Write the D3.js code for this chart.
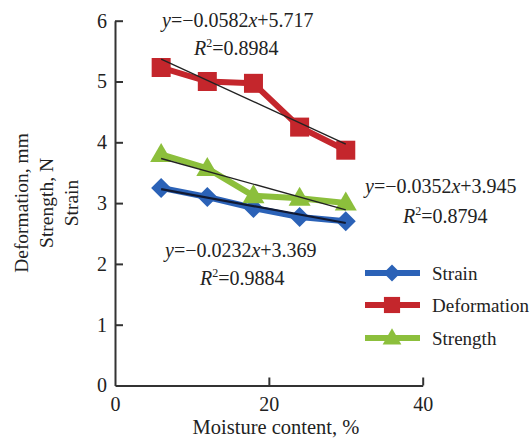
<!DOCTYPE html>
<html><head><meta charset="utf-8">
<script src="https://cdn.jsdelivr.net/npm/d3@7"></script>
<style>
html,body{margin:0;padding:0;background:#fff;}
svg{display:block;font-family:"Liberation Serif","Times New Roman",serif;}
</style></head>
<body><svg id="c" width="531" height="438"></svg>
<script>
const moisture = [6, 12, 18, 24, 30];
const strain = [3.25, 3.10, 2.92, 2.77, 2.70];
const deformation = [5.23, 5.00, 4.97, 4.25, 3.87];
const strength = [3.80, 3.57, 3.12, 3.08, 3.00];
const seriesNames = ["Strain", "Deformation", "Strength"];
const seriesColors = ["#2b62b7", "#c4262c", "#8cbf3c"];
const seriesMarkers = ["diamond", "square", "triangle"];
const slopes = [-0.0232, -0.0582, -0.0352];
const intercepts = [3.369, 5.717, 3.945];
const eqLabels = ["0.0232", "0.0582", "0.0352"];
const eqConst = ["3.369", "5.717", "3.945"];
const r2Labels = ["0.9884", "0.8984", "0.8794"];
const xTicks = [0, 20, 40];
const yTicks = [0, 1, 2, 3, 4, 5, 6];

const svg = d3.select("#c");
const x = d3.scaleLinear().domain([0, 40]).range([115, 422.7]);
const y = d3.scaleLinear().domain([0, 6]).range([385.5, 20.7]);
const data = [strain, deformation, strength];

// axes
const xAxis = d3.axisBottom(x).tickValues(xTicks).tickFormat(d3.format("d")).tickSizeInner(-8).tickSizeOuter(0).tickPadding(11);
const yAxis = d3.axisLeft(y).tickValues(yTicks).tickFormat(d3.format("d")).tickSizeInner(-8).tickSizeOuter(0).tickPadding(8);
const gx = svg.append("g").attr("transform", `translate(0,${y(0)})`).call(xAxis);
const gy = svg.append("g").attr("transform", `translate(${x(0)},0)`).call(yAxis);
[gx, gy].forEach(g => {
  g.select(".domain").attr("stroke", "#333").attr("stroke-width", 2);
  g.selectAll(".tick line").attr("stroke", "#333").attr("stroke-width", 2);
  g.selectAll(".tick text").attr("font-size", 20).attr("fill", "#222").attr("font-family", "Liberation Serif");
});
gx.selectAll(".tick").filter(d => d === 0).select("line").remove();
gy.selectAll(".tick").filter(d => d === 0).select("line").remove();

// axis titles
svg.append("text").attr("x", 276).attr("y", 434).attr("text-anchor", "middle")
  .attr("font-size", 20.5).attr("fill", "#222").text("Moisture content, %");
const yl = ["Deformation, mm", "Strength, N", "Strain"];
yl.forEach((t, i) => {
  svg.append("text").attr("transform", `translate(${28 + i * 25},203) rotate(-90)`)
    .attr("text-anchor", "middle").attr("font-size", 19.5).attr("fill", "#222").text(t);
});

function markerPath(type, s) {
  if (type === "diamond") return `M0,${-s}L${s},0L0,${s}L${-s},0Z`;
  if (type === "square") return `M${-s},${-s}H${s}V${s}H${-s}Z`;
  return `M0,${-s * 1.15}L${s * 1.1},${s * 0.75}L${-s * 1.1},${s * 0.75}Z`;
}
const mSize = [10, 9.5, 10];

// series
data.forEach((vals, i) => {
  const line = d3.line().x((d, j) => x(moisture[j])).y(d => y(d));
  svg.append("path").datum(vals).attr("d", line).attr("fill", "none")
    .attr("stroke", seriesColors[i]).attr("stroke-width", 6).attr("stroke-linejoin", "round");
  svg.selectAll(null).data(vals).enter().append("path")
    .attr("transform", (d, j) => `translate(${x(moisture[j])},${y(d)})`)
    .attr("d", markerPath(seriesMarkers[i], mSize[i])).attr("fill", seriesColors[i]);
});
// trend lines
data.forEach((vals, i) => {
  const x0 = moisture[0], x1 = moisture[moisture.length - 1];
  svg.append("line").attr("x1", x(x0)).attr("y1", y(slopes[i] * x0 + intercepts[i]))
    .attr("x2", x(x1)).attr("y2", y(slopes[i] * x1 + intercepts[i]))
    .attr("stroke", i === 0 ? "#111a33" : "#222").attr("stroke-width", i === 0 ? 2.2 : 1.4);
});

// equations
const eqPos = [[165, 257, 200, 285], [162, 27, 194, 55], [365, 193, 403, 223]];
eqPos.forEach((p, i) => {
  const t = svg.append("text").attr("x", p[0]).attr("y", p[1]).attr("font-size", 20).attr("fill", "#222");
  t.append("tspan").attr("font-style", "italic").text("y");
  t.append("tspan").text("=\u2212" + eqLabels[i]);
  t.append("tspan").attr("font-style", "italic").text("x");
  t.append("tspan").text("+" + eqConst[i]);
  const r = svg.append("text").attr("x", p[2]).attr("y", p[3]).attr("font-size", 20).attr("fill", "#222");
  r.append("tspan").attr("font-style", "italic").text("R");
  r.append("tspan").attr("font-size", 12).attr("dy", -8).text("2");
  r.append("tspan").attr("dy", 8).text("=" + r2Labels[i]);
});

// legend
const ly = [273, 305, 338];
seriesNames.forEach((n, i) => {
  svg.append("line").attr("x1", 365).attr("x2", 420).attr("y1", ly[i]).attr("y2", ly[i])
    .attr("stroke", seriesColors[i]).attr("stroke-width", 6);
  svg.append("path").attr("transform", `translate(392,${ly[i]})`)
    .attr("d", markerPath(seriesMarkers[i], mSize[i] * 0.85)).attr("fill", seriesColors[i]);
  svg.append("text").attr("x", 432).attr("y", ly[i]).attr("dy", "0.35em")
    .attr("font-size", 19).attr("fill", "#222").text(n);
});
</script></body></html>
